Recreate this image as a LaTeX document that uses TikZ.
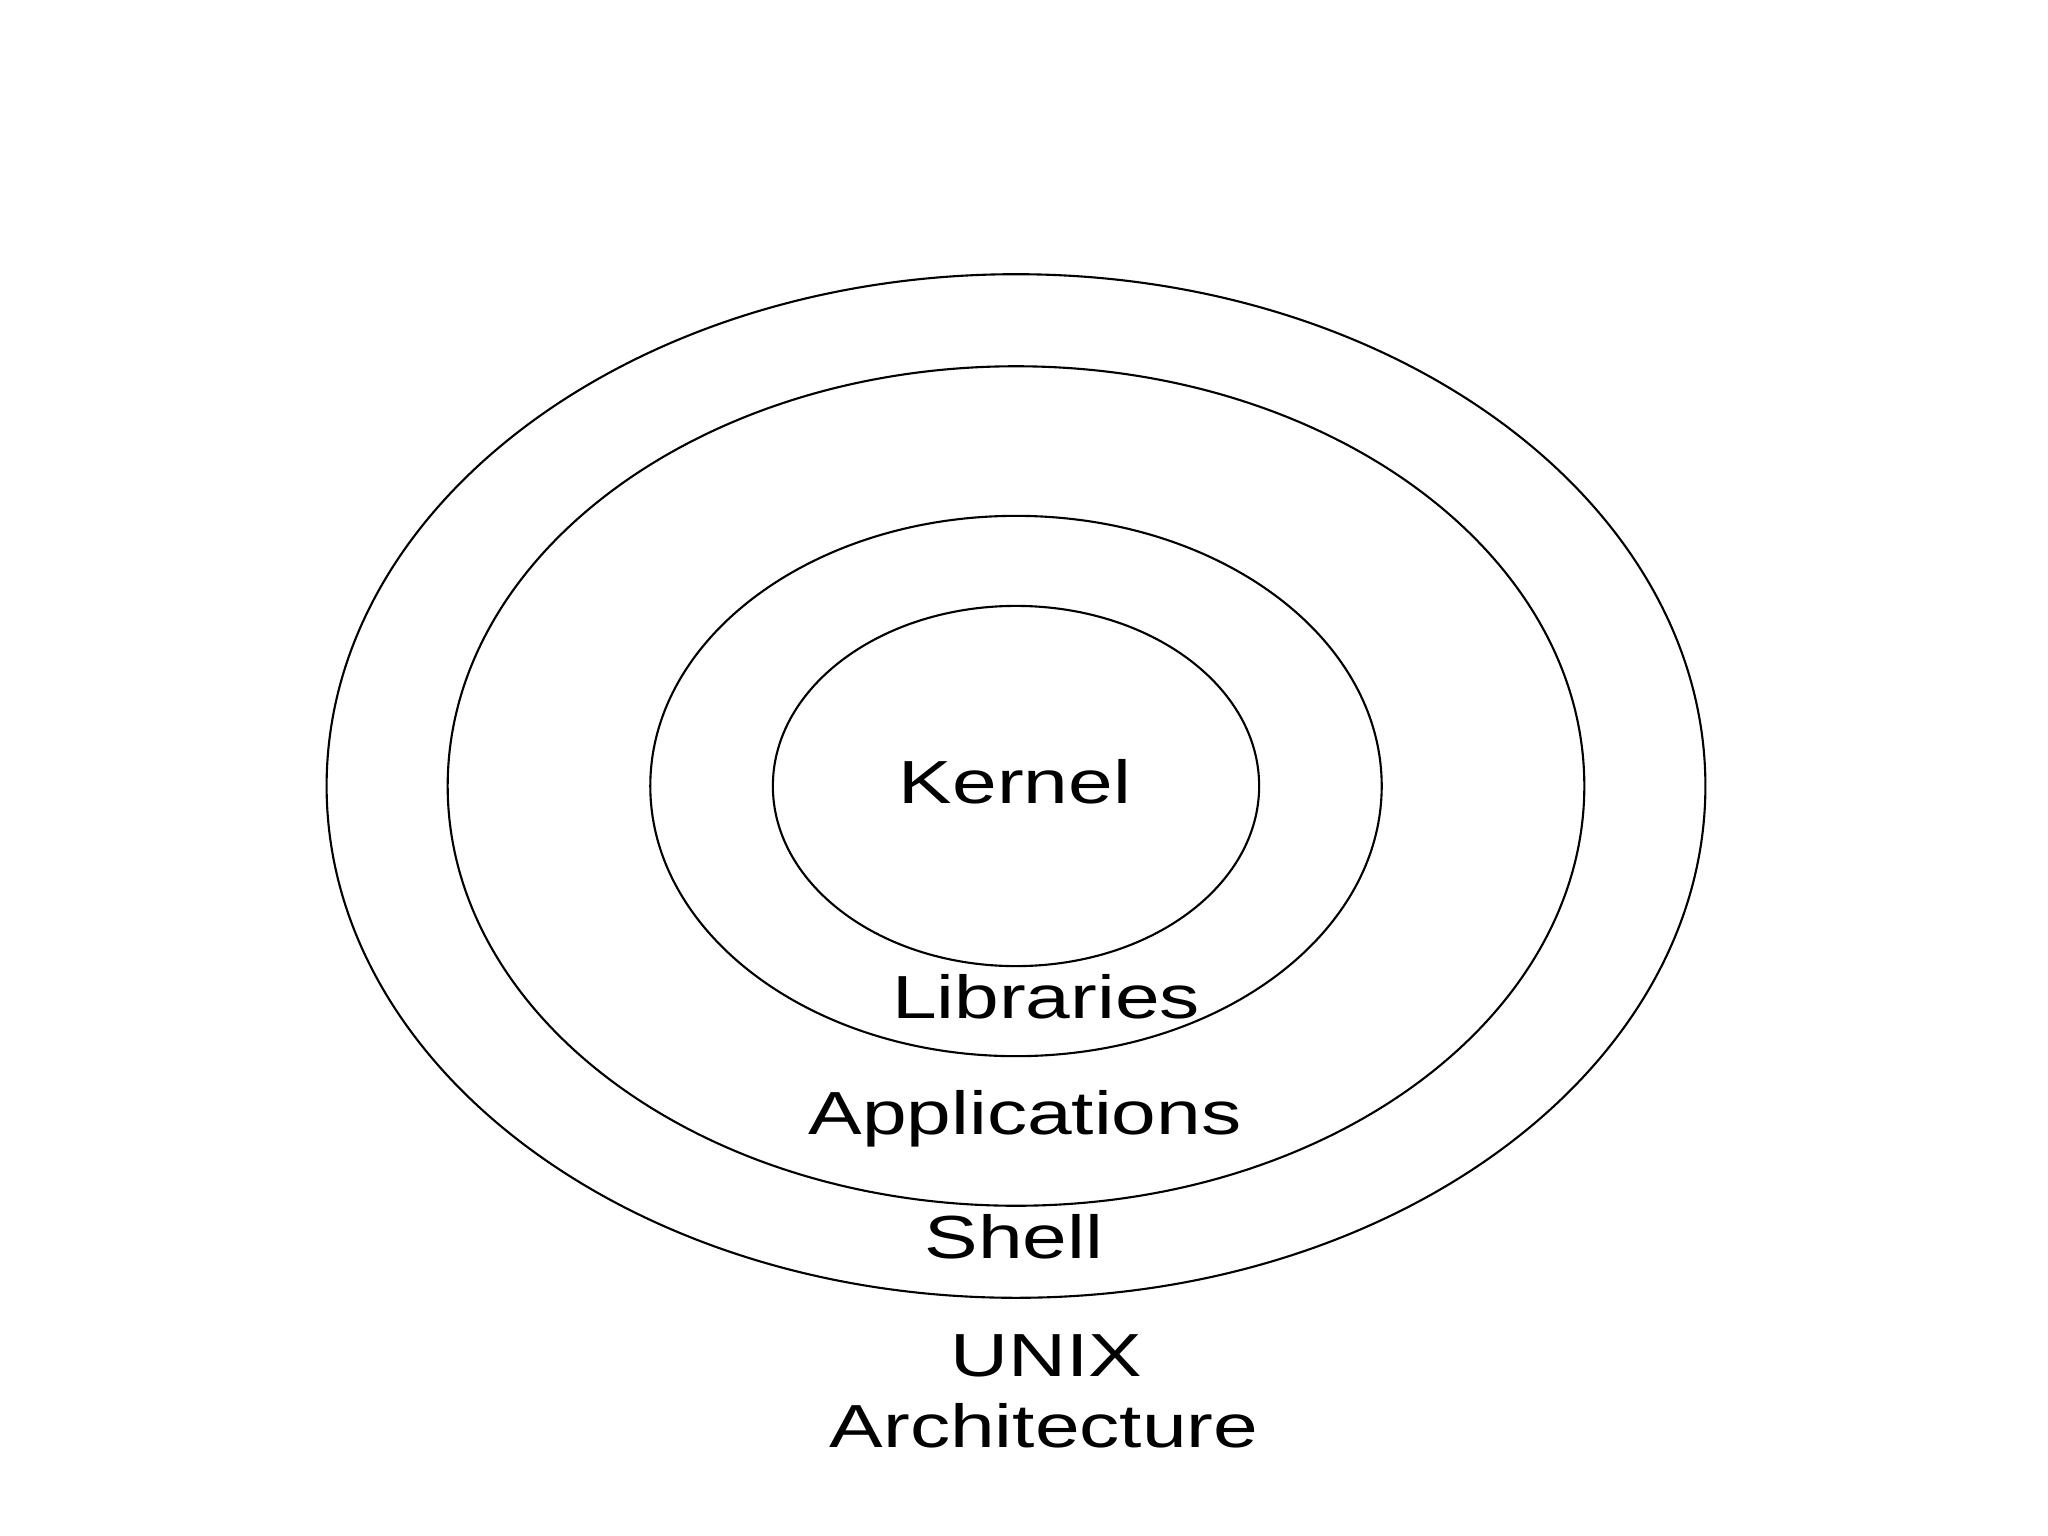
\documentclass[tikz,border=0pt]{standalone}
\usepackage{fontspec}
\usepackage{graphicx}
\setmainfont{Liberation Sans}
\usetikzlibrary{shapes.geometric}
\tikzset{
  ring/.style={draw=black, ellipse, line width=0.6pt, inner sep=0pt, outer sep=0pt},
  lbl/.style={anchor=base, inner sep=0pt, font=\fontsize{17.3}{20}\selectfont}
}
\newcommand{\wide}[1]{\scalebox{1.32}[1]{#1}}
\begin{document}
\begin{tikzpicture}[x=0.01cm, y=-0.01cm]
  \useasboundingbox[fill=white] (0,0) rectangle (2048,1536);
  \node[ring, minimum width=13.78cm, minimum height=10.23cm] (shellring) at (1016,786) {};
  \node[ring, minimum width=11.36cm, minimum height=8.39cm] (appring) at (1016,786) {};
  \node[ring, minimum width=7.31cm, minimum height=5.40cm] (libring) at (1016,786) {};
  \node[ring, minimum width=4.86cm, minimum height=3.60cm] (kernring) at (1016,786) {};
  \node[lbl] (kernel) at (1015,803) {\wide{Kernel}};
  \node[lbl] (libs) at (1046,1018) {\wide{Libraries}};
  \node[lbl] (apps) at (1025,1134) {\wide{Applications}};
  \node[lbl] (shell) at (1014,1258) {\wide{Shell}};
  \node[lbl] (unix) at (1046,1376) {\wide{UNIX}};
  \node[lbl] (arch) at (1044,1447) {\wide{Architecture}};
\end{tikzpicture}
\end{document}
